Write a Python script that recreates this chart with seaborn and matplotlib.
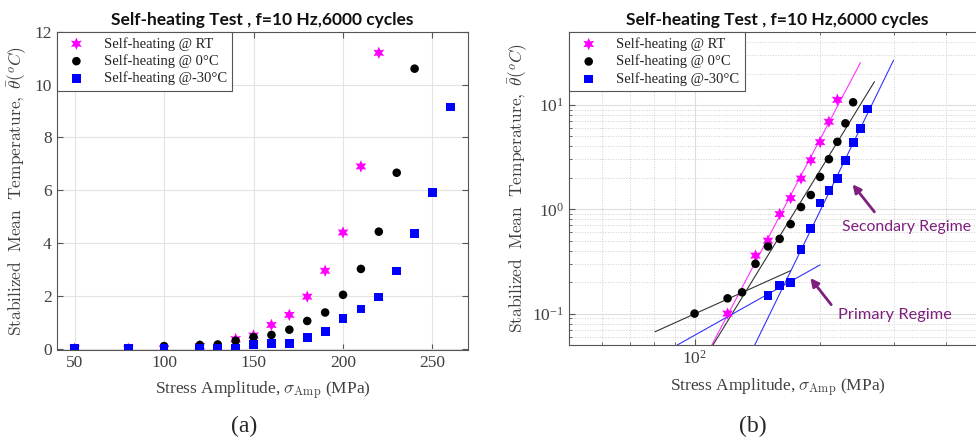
import matplotlib
matplotlib.use("Agg")
import matplotlib.pyplot as plt
import matplotlib.ticker as ticker
import numpy as np
import pandas as pd
import seaborn as sns

# stress amplitude (MPa) and stabilized mean temperature rise (deg C)
rt_stress = [50, 80, 100, 120, 140, 150, 160, 170, 180, 190, 200, 210, 220]
rt_temp = [0.0, 0.0, 0.0, 0.1, 0.36, 0.5, 0.9, 1.28, 1.97, 2.95, 4.4, 6.9, 11.2]

zero_stress = [100, 120, 130, 140, 150, 160, 170, 180, 190, 200, 210, 220, 230, 240]
zero_temp = [0.1, 0.14, 0.16, 0.3, 0.44, 0.52, 0.72, 1.05, 1.37, 2.04, 3.02, 4.43, 6.66, 10.6]

m30_stress = [50, 80, 100, 120, 130, 140, 150, 160, 170, 180, 190, 200, 210, 220, 230, 240, 250, 260]
m30_temp = [0.0, 0.0, 0.0, 0.02, 0.02, 0.03, 0.15, 0.185, 0.2, 0.41, 0.65, 1.15, 1.5, 1.96,
            2.94, 4.35, 5.9, 9.15]

# power-law fit lines (end points) shown on the log-log panel
fit_rt_sec_x, fit_rt_sec_y = [110, 250], [0.05, 25.5]
fit_zero_sec_x, fit_zero_sec_y = [110.7, 270], [0.05, 16.7]
fit_m30_sec_x, fit_m30_sec_y = [139.4, 300], [0.05, 26.8]
fit_zero_pri_x, fit_zero_pri_y = [80.4, 170], [0.067, 0.258]
fit_m30_pri_x, fit_m30_pri_y = [90.9, 200], [0.05, 0.293]

labels = ["Self-heating @ RT", "Self-heating @ 0°C", "Self-heating @-30°C"]
TITLE = "Self-heating Test , f=10 Hz,6000 cycles"
XLABEL = r"Stress Amplitude, $\sigma_{\mathrm{Amp}}$ (MPa)"
YLABEL = r"$\mathrm{Stabilized\ \ Mean\ \ Temperature,}\ \bar{\theta}(^{o}C)$"

sns.set_style("ticks")
plt.rcParams["font.family"] = ["Liberation Serif", "DejaVu Serif"]
plt.rcParams["mathtext.fontset"] = "cm"

TXT = "#404040"
SPINE = "#555555"
PURPLE = "#7E1F7E"

series = [
    (rt_stress, rt_temp, "#FF00FF", (6, 1, 0), 80),
    (zero_stress, zero_temp, "black", "o", 38),
    (m30_stress, m30_temp, "#0000FF", "s", 40),
]

fig = plt.figure(figsize=(9.76, 4.4), dpi=100)
ax1 = fig.add_axes([0.0581, 0.2045, 0.4217, 0.7235])
ax2 = fig.add_axes([0.583, 0.2159, 0.4273, 0.7114])


def style_axes(ax, ypad):
    for s in ax.spines.values():
        s.set_color(SPINE)
        s.set_linewidth(0.8)
    ax.tick_params(which="both", direction="in", top=True, right=True,
                   colors=SPINE, labelcolor=TXT, labelsize=12.5)
    ax.tick_params(which="major", length=4)
    ax.tick_params(which="minor", length=2)
    ax.set_title(TITLE, fontsize=12.5, fontweight="bold", family="Lato", pad=5, color="#111111")
    ax.set_xlabel(XLABEL, fontsize=12.5, color=TXT, labelpad=6)
    ax.set_ylabel(YLABEL, fontsize=12.5, color=TXT, labelpad=ypad)


# (a) linear axes
for (x, y, c, m, s), lab in zip(series, labels):
    df = pd.DataFrame({"stress": x, "temp": y})
    sns.scatterplot(data=df, x="stress", y="temp", ax=ax1, color=c, marker=m, s=s,
                    edgecolor="none", label=lab, zorder=3)
ax1.set_xlim(40, 270)
ax1.set_ylim(-0.05, 12)
ax1.set_xticks([50, 100, 150, 200, 250])
ax1.set_yticks(range(0, 13, 2))
ax1.grid(True, color="#E3E3E3", linewidth=0.8)
style_axes(ax1, 4)

# (b) log-log axes
for (x, y, c, m, s), lab in zip(series, labels):
    df = pd.DataFrame({"stress": x, "temp": y})
    df = df[df["temp"] > 0]
    sns.scatterplot(data=df, x="stress", y="temp", ax=ax2, color=c, marker=m, s=s,
                    edgecolor="none", label=lab, zorder=3)

fits = [
    (fit_rt_sec_x, fit_rt_sec_y, "#FF33FF"),
    (fit_zero_sec_x, fit_zero_sec_y, "#333333"),
    (fit_m30_sec_x, fit_m30_sec_y, "#3333FF"),
    (fit_zero_pri_x, fit_zero_pri_y, "#333333"),
    (fit_m30_pri_x, fit_m30_pri_y, "#3333FF"),
]
for fx, fy, c in fits:
    sns.lineplot(x=fx, y=fy, ax=ax2, color=c, linewidth=0.8, zorder=2)

ax2.set_xscale("log")
ax2.set_yscale("log")
ax2.set_xlim(50, 500)
ax2.set_ylim(0.05, 50)
ax2.xaxis.set_major_locator(ticker.LogLocator(base=10))
ax2.xaxis.set_minor_locator(ticker.LogLocator(base=10, subs=np.arange(2, 10)))
ax2.xaxis.set_minor_formatter(ticker.NullFormatter())
ax2.yaxis.set_minor_locator(ticker.LogLocator(base=10, subs=np.arange(2, 10)))
ax2.yaxis.set_minor_formatter(ticker.NullFormatter())
ax2.grid(True, which="major", color="#DDDDDD", linewidth=0.8)
ax2.grid(True, which="minor", color="#CFCFCF", linewidth=0.7, linestyle=":")
style_axes(ax2, 2)

ax2.annotate("", xy=(237, 1.82), xytext=(272.5, 0.90),
             arrowprops=dict(arrowstyle="-|>", color=PURPLE, lw=2, mutation_scale=12))
ax2.text(226, 0.68, "Secondary Regime", color=PURPLE, fontsize=11.4, family="Lato",
         va="center", ha="left")
ax2.annotate("", xy=(187.7, 0.23), xytext=(214.7, 0.116),
             arrowprops=dict(arrowstyle="-|>", color=PURPLE, lw=2, mutation_scale=12))
ax2.text(221, 0.096, "Primary Regime", color=PURPLE, fontsize=11.8, family="Lato",
         va="center", ha="left")

for ax in (ax1, ax2):
    leg = ax.legend(loc="upper left", borderaxespad=0, fontsize=10.5, frameon=True,
                    fancybox=False, framealpha=1, edgecolor=SPINE,
                    handletextpad=0.9, borderpad=0.35, labelspacing=0.25)
    leg.get_frame().set_linewidth(0.8)
    for t in leg.get_texts():
        t.set_color("#222222")

fig.text(243.8 / 976, 1 - 426.7 / 440, "(a)", ha="center", va="center", fontsize=17)
fig.text(753 / 976, 1 - 426.7 / 440, "(b)", ha="center", va="center", fontsize=17)

fig.savefig("out.png", dpi=100)
